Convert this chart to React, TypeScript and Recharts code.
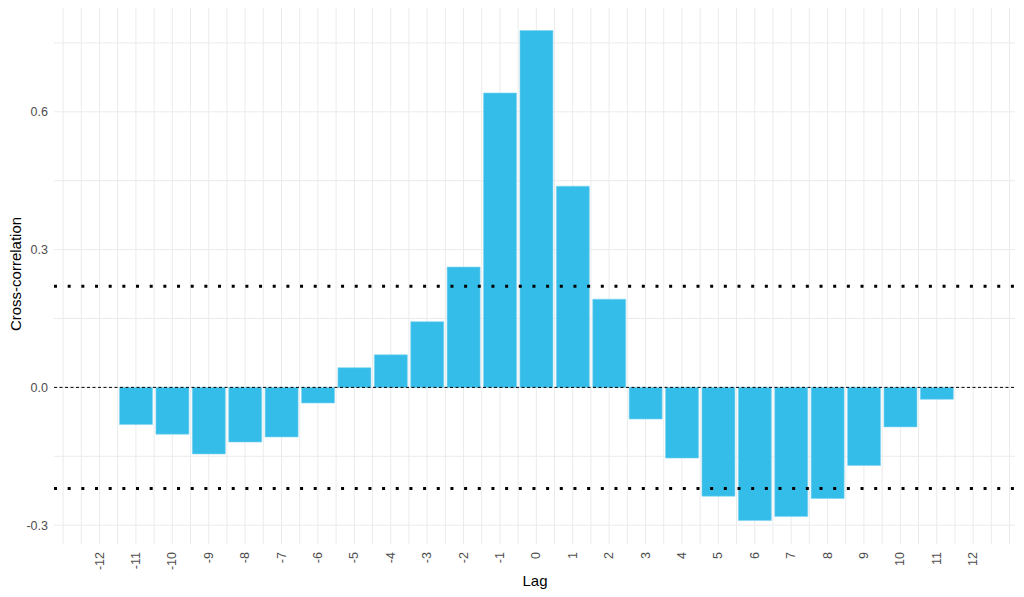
import React from 'react';
import { ComposedChart, Bar, XAxis, YAxis, CartesianGrid, ReferenceLine } from 'recharts';

const lags: number[] = [-11, -10, -9, -8, -7, -6, -5, -4, -3, -2, -1, 0, 1, 2, 3, 4, 5, 6, 7, 8, 9, 10, 11];
const ccfValues: number[] = [-0.081, -0.102, -0.145, -0.119, -0.108, -0.034, 0.043, 0.071, 0.143, 0.262, 0.641, 0.777, 0.438, 0.192, -0.069, -0.154, -0.237, -0.290, -0.281, -0.242, -0.170, -0.086, -0.026];
const xTicks: number[] = [-12, -11, -10, -9, -8, -7, -6, -5, -4, -3, -2, -1, 0, 1, 2, 3, 4, 5, 6, 7, 8, 9, 10, 11, 12];
const yTicks: number[] = [-0.3, 0, 0.3, 0.6];
const confBound = 0.22;

const data = lags.map((lag, i) => ({ lag, ccf: ccfValues[i] }));

const hGrid: number[] = [-0.3, -0.15, 0, 0.15, 0.3, 0.45, 0.6, 0.75];
const vGrid: number[] = Array.from({ length: 53 }, (_, i) => -13 + i * 0.5);

const XTick = (props: any) => {
  const { x, y, payload } = props;
  return (
    <text
      x={x}
      y={y}
      transform={`rotate(-90, ${x}, ${y})`}
      textAnchor="end"
      dominantBaseline="central"
      fill="#4D4D4D"
      fontSize={12.5}
      fontFamily="Liberation Sans, Arial, sans-serif"
    >
      {payload.value}
    </text>
  );
};

export default function App() {
  return (
    <div style={{ position: 'absolute', left: 0, top: 0, width: 1024, height: 597, background: '#fff' }}>
      <ComposedChart
        width={1024}
        height={597}
        data={data}
        margin={{ top: 8, right: 9, bottom: 0, left: 0 }}
        barCategoryGap="5%"
      >
        <CartesianGrid
          stroke="#EBEBEB"
          strokeWidth={1}
          horizontalValues={hGrid}
          verticalValues={vGrid}
        />
        <XAxis
          dataKey="lag"
          type="number"
          domain={[-13.25, 13.15]}
          ticks={xTicks}
          interval={0}
          allowDataOverflow
          axisLine={false}
          tickLine={false}
          tickSize={0}
          tickMargin={8}
          height={53}
          tick={<XTick />}
          label={{
            content: () => (
              <text
                x={535}
                y={586}
                textAnchor="middle"
                fill="#000"
                fontSize={15}
                fontFamily="Liberation Sans, Arial, sans-serif"
              >
                Lag
              </text>
            ),
          }}
        />
        <YAxis
          type="number"
          domain={[-0.341, 0.826]}
          ticks={yTicks}
          allowDataOverflow
          axisLine={false}
          tickLine={false}
          tickSize={0}
          tickMargin={6}
          width={54}
          tickFormatter={(v: number) => v.toFixed(1)}
          tick={{ fill: '#4D4D4D', fontSize: 12.5, fontFamily: 'Liberation Sans, Arial, sans-serif' }}
          label={{
            content: () => (
              <text
                x={15}
                y={274}
                transform="rotate(-90, 15, 274)"
                textAnchor="middle"
                dominantBaseline="central"
                fill="#000"
                fontSize={15}
                fontFamily="Liberation Sans, Arial, sans-serif"
              >
                Cross-correlation
              </text>
            ),
          }}
        />
        <Bar dataKey="ccf" fill="#35BDEA" stroke="#7DD4F2" strokeWidth={0.6} isAnimationActive={false} />
        <ReferenceLine y={0} stroke="#000" strokeWidth={1} strokeDasharray="3 2.5" />
        <ReferenceLine y={confBound} stroke="#000" strokeWidth={3} strokeDasharray="3 10.67" />
        <ReferenceLine y={-confBound} stroke="#000" strokeWidth={3} strokeDasharray="3 10.67" />
      </ComposedChart>
    </div>
  );
}
